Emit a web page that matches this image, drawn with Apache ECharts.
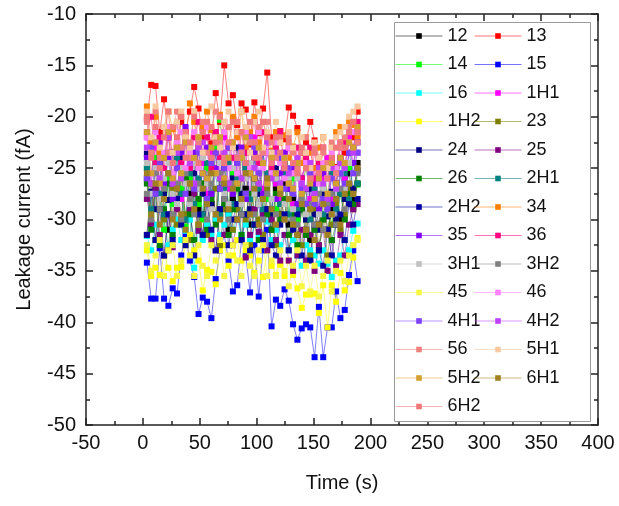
<!DOCTYPE html>
<html>
<head>
<meta charset="utf-8">
<script src="https://cdn.jsdelivr.net/npm/echarts@6/dist/echarts.min.js"></script>
<style>
html,body{margin:0;padding:0;background:#fff;}
#chart{width:619px;height:506px;}
</style>
</head>
<body>
<div id="chart"></div>
<script>
// Time axis values (s)
const times = [3.5,7.3,11.1,14.8,18.6,22.4,26.2,30.0,33.7,37.5,
               41.3,45.1,48.9,52.6,56.4,60.2,64.0,67.8,71.5,75.3,
               79.1,82.9,86.7,90.4,94.2,98.0,101.8,105.6,109.3,113.1,
               116.9,120.7,124.5,128.2,132.0,135.8,139.6,143.4,147.1,150.9,
               154.7,158.5,162.3,166.0,169.8,173.6,177.4,181.2,184.9,188.7];

// Series values (fA)
const s12 = [-26.0,-30.5,-27.0,-24.5,-29.5,-31.0,-26.5,-28.0,-25.0,-30.0,
             -27.5,-24.0,-29.0,-31.5,-26.0,-28.5,-30.0,-25.5,-27.0,-31.0,
             -28.0,-25.5,-29.5,-27.0,-30.5,-26.0,-28.5,-24.5,-29.0,-31.0,
             -27.0,-29.5,-26.5,-30.5,-28.0,-31.5,-29.0,-27.0,-32.0,-28.5,
             -30.5,-27.5,-31.0,-29.0,-26.5,-30.0,-27.0,-25.5,-28.0,-24.5];
const s13 = [-20.2,-16.9,-17.0,-21.5,-18.3,-22.0,-21.0,-23.0,-20.5,-21.5,
             -19.5,-17.1,-19.2,-22.0,-21.0,-22.6,-17.7,-20.5,-15.0,-18.7,
             -17.9,-20.8,-18.7,-19.3,-22.7,-18.6,-21.6,-19.2,-15.7,-22.0,
             -22.1,-21.4,-22.2,-19.1,-19.9,-21.1,-23.5,-22.5,-20.5,-22.3,
             -24.0,-24.5,-25.0,-24.0,-24.9,-24.0,-23.5,-22.5,-22.0,-19.5];
const s14 = [-25.0,-29.5,-24.0,-27.5,-31.0,-26.0,-28.5,-23.5,-27.0,-30.7,
             -26.0,-23.5,-28.5,-30.0,-25.0,-27.5,-23.0,-20.3,-24.5,-28.5,
             -25.5,-29.0,-24.0,-27.5,-25.0,-29.5,-26.5,-23.5,-28.0,-25.0,
             -29.0,-27.0,-24.5,-29.5,-26.0,-30.0,-27.5,-24.5,-28.5,-26.5,
             -29.0,-24.6,-28.0,-30.5,-26.5,-24.5,-28.0,-25.0,-23.0,-26.6];
const s15 = [-34.2,-37.7,-37.7,-32.8,-37.7,-38.4,-36.7,-37.2,-33.5,-31.5,
             -34.0,-35.6,-39.2,-37.6,-38.0,-39.6,-35.8,-33.0,-31.5,-34.0,
             -37.0,-36.4,-32.0,-33.5,-37.1,-32.5,-37.5,-33.0,-31.0,-40.4,
             -37.8,-38.4,-36.8,-37.9,-40.2,-41.7,-40.6,-40.2,-40.5,-43.4,
             -38.5,-43.4,-40.5,-40.5,-37.0,-39.6,-38.8,-35.4,-33.0,-36.0];
const s16 = [-31.6,-33.0,-30.5,-31.8,-30.0,-32.5,-31.0,-30.0,-32.0,-31.1,
             -30.0,-34.7,-31.0,-32.0,-30.5,-31.5,-30.0,-31.5,-30.5,-29.5,
             -31.0,-30.0,-31.5,-30.5,-32.0,-30.5,-31.5,-29.5,-30.2,-32.0,
             -31.0,-32.5,-31.5,-33.0,-32.0,-33.5,-34.5,-32.5,-33.0,-33.5,
             -34.3,-33.0,-34.3,-35.6,-34.0,-33.5,-32.0,-33.0,-31.1,-30.4];
const s1H1 = [-22.0,-26.5,-23.0,-27.5,-24.0,-21.5,-26.0,-23.0,-28.0,-22.5,
              -25.0,-27.0,-22.5,-24.5,-27.5,-23.5,-21.5,-25.5,-22.0,-27.0,
              -24.0,-21.5,-26.0,-23.5,-27.5,-22.0,-25.5,-27.0,-22.5,-24.5,
              -26.5,-28.0,-23.5,-26.5,-28.5,-24.5,-27.0,-23.5,-28.0,-25.0,
              -29.0,-26.0,-24.0,-28.0,-25.0,-22.5,-26.0,-22.0,-24.5,-23.5];
const s1H2 = [-33.0,-35.5,-34.7,-35.4,-33.5,-34.7,-36.0,-34.7,-34.6,-32.5,
              -31.5,-33.0,-34.0,-36.9,-34.9,-35.1,-36.3,-33.0,-32.5,-34.5,
              -33.5,-32.0,-34.0,-33.0,-33.5,-35.2,-34.0,-35.6,-33.0,-34.5,
              -35.4,-34.4,-35.5,-34.0,-35.4,-36.7,-38.6,-37.3,-37.3,-37.2,
              -39.1,-36.4,-40.5,-36.4,-38.0,-35.2,-36.9,-36.1,-33.7,-31.8];
const s23 = [-31.5,-26.5,-32.0,-28.0,-30.0,-33.0,-27.0,-30.5,-26.0,-29.5,
             -32.0,-27.0,-30.5,-26.5,-31.5,-28.5,-27.0,-32.5,-29.0,-26.5,
             -31.0,-29.0,-26.0,-30.0,-32.5,-27.5,-30.0,-31.5,-27.0,-30.0,
             -32.5,-29.5,-28.0,-33.0,-30.5,-28.5,-32.5,-30.0,-33.5,-29.0,
             -32.5,-30.0,-33.5,-30.5,-28.5,-31.0,-29.5,-27.0,-29.0,-26.5];
const s24 = [-23.6,-27.3,-29.0,-24.0,-27.5,-28.1,-23.5,-27.0,-24.0,-26.2,
             -29.0,-25.5,-23.0,-27.5,-24.5,-28.5,-23.5,-27.0,-25.0,-29.0,
             -26.0,-23.0,-27.5,-25.0,-29.0,-24.0,-27.5,-23.5,-26.5,-29.5,
             -25.0,-26.7,-24.6,-27.0,-29.5,-29.1,-26.5,-30.0,-27.0,-29.5,
             -31.0,-27.5,-29.7,-27.3,-30.0,-25.5,-28.0,-24.5,-27.0,-25.2];
const s25 = [-28.0,-30.4,-27.0,-31.5,-33.5,-29.5,-32.7,-29.0,-27.5,-32.0,
             -29.0,-27.5,-31.1,-29.5,-28.0,-32.0,-33.0,-29.0,-31.5,-28.5,
             -32.5,-30.0,-29.5,-33.7,-31.5,-29.0,-31.2,-29.5,-33.0,-30.0,
             -32.0,-34.0,-31.5,-34.0,-35.0,-33.5,-31.0,-34.0,-31.5,-35.0,
             -32.5,-31.0,-35.0,-32.0,-34.5,-31.5,-33.5,-30.5,-29.0,-28.5];
const s26 = [-26.5,-31.0,-27.5,-32.5,-29.0,-26.5,-31.5,-28.0,-30.0,-26.0,
             -29.5,-32.0,-28.0,-26.5,-31.0,-28.0,-30.5,-26.0,-28.5,-31.5,
             -29.0,-27.0,-31.5,-29.5,-27.5,-30.5,-32.0,-28.0,-29.5,-31.0,
             -27.5,-30.0,-28.0,-31.5,-29.5,-32.5,-29.0,-31.5,-28.5,-31.0,
             -33.0,-30.0,-28.5,-32.0,-30.5,-27.5,-30.0,-27.5,-28.5,-26.5];
const s2H1 = [-25.0,-29.0,-24.5,-27.5,-29.5,-25.5,-28.0,-24.0,-27.5,-30.0,
              -25.5,-28.5,-26.0,-29.5,-24.5,-27.5,-25.5,-29.5,-27.0,-24.5,
              -28.5,-26.0,-29.5,-25.0,-28.0,-24.0,-27.0,-29.0,-25.5,-29.0,
              -26.0,-28.5,-25.5,-29.5,-27.5,-29.0,-26.0,-28.5,-30.0,-27.0,
              -26.0,-29.5,-28.0,-25.5,-29.0,-27.5,-25.5,-28.0,-24.5,-26.5];
const s2H2 = [-31.5,-27.5,-32.0,-29.0,-33.5,-29.5,-32.0,-28.0,-30.5,-32.5,
              -28.5,-33.5,-29.5,-31.5,-28.5,-31.0,-33.0,-29.0,-28.0,-32.5,
              -30.0,-28.5,-32.0,-29.5,-33.0,-30.5,-28.5,-32.0,-29.0,-32.5,
              -33.5,-30.5,-29.5,-33.0,-31.0,-29.5,-33.5,-31.0,-34.0,-30.5,
              -33.0,-34.5,-31.0,-33.5,-30.5,-29.5,-32.0,-28.5,-30.5,-28.0];
const s34 = [-19.0,-22.5,-20.0,-23.5,-21.0,-19.5,-21.2,-23.0,-20.0,-22.0,
             -18.7,-20.5,-23.0,-21.0,-19.5,-21.3,-23.5,-19.8,-21.5,-23.0,
             -20.0,-22.0,-19.5,-23.0,-21.5,-20.0,-22.5,-20.5,-22.0,-23.3,
             -21.5,-22.5,-21.8,-24.0,-22.9,-21.5,-24.5,-22.0,-23.5,-25.0,
             -23.0,-22.0,-24.5,-23.0,-21.5,-21.0,-23.0,-20.5,-20.8,-22.0];
const s35 = [-24.0,-27.5,-25.0,-22.5,-26.5,-24.0,-28.0,-25.0,-23.5,-21.0,
             -26.5,-23.5,-27.0,-25.5,-23.0,-27.5,-25.0,-22.5,-26.5,-24.0,
             -27.5,-24.5,-23.0,-28.0,-25.0,-23.5,-26.5,-27.5,-23.5,-25.5,
             -28.0,-25.5,-23.5,-27.0,-25.0,-28.5,-26.0,-24.5,-28.5,-26.5,
             -29.0,-25.5,-24.5,-28.5,-26.5,-24.0,-27.0,-23.5,-24.5,-22.5];
const s36 = [-21.5,-20.0,-24.5,-22.0,-25.0,-22.0,-23.5,-20.5,-24.5,-21.5,
             -25.0,-22.0,-20.5,-23.5,-22.0,-25.0,-21.5,-24.0,-20.5,-23.0,
             -24.0,-25.5,-21.5,-23.5,-22.0,-20.5,-24.5,-21.5,-23.5,-25.0,
             -23.0,-21.5,-25.0,-23.0,-25.5,-23.0,-26.0,-24.0,-23.0,-26.0,
             -24.5,-23.0,-26.0,-24.0,-26.5,-23.0,-22.5,-21.5,-23.0,-20.5];
const s3H1 = [-24.5,-27.5,-25.0,-28.0,-26.0,-24.5,-27.5,-28.5,-25.0,-26.5,
              -28.5,-24.5,-27.0,-24.0,-26.5,-29.0,-25.5,-24.5,-27.5,-28.5,
              -25.0,-26.5,-28.5,-26.0,-24.5,-27.5,-28.5,-24.5,-26.5,-28.0,
              -26.0,-24.5,-28.5,-26.0,-29.0,-26.0,-28.0,-29.5,-26.0,-28.5,
              -29.5,-27.0,-26.0,-29.5,-27.0,-25.5,-27.0,-24.5,-25.5,-23.5];
const s3H2 = [-27.5,-30.0,-25.5,-29.0,-27.0,-25.5,-29.5,-26.5,-30.0,-25.5,
              -28.0,-29.5,-26.5,-25.5,-30.0,-26.5,-29.5,-25.5,-28.0,-30.0,
              -26.5,-25.5,-29.5,-27.5,-25.5,-29.5,-26.5,-30.0,-27.5,-25.5,
              -29.5,-27.0,-30.0,-26.5,-30.0,-30.5,-28.0,-31.0,-28.5,-30.5,
              -27.5,-31.0,-28.5,-27.5,-30.5,-27.0,-29.0,-26.5,-27.5,-25.5];
const s45 = [-32.5,-35.0,-33.5,-32.0,-35.5,-33.0,-32.5,-35.5,-34.0,-32.0,
             -33.5,-35.5,-32.5,-34.5,-35.5,-32.5,-34.0,-32.0,-35.5,-33.5,
             -32.5,-34.0,-35.5,-32.5,-34.5,-35.5,-33.0,-32.5,-35.5,-34.0,
             -35.5,-33.0,-35.0,-36.5,-34.5,-33.0,-36.5,-34.5,-37.0,-34.5,
             -37.5,-35.5,-34.0,-37.0,-35.0,-34.0,-36.0,-33.5,-32.5,-32.0];
const s46 = [-22.0,-25.5,-21.5,-25.0,-23.5,-21.0,-25.5,-22.5,-21.5,-25.0,
             -23.5,-21.5,-25.0,-23.5,-21.0,-24.0,-25.5,-22.5,-21.5,-25.0,
             -22.5,-25.5,-23.5,-21.5,-25.0,-22.5,-21.5,-25.0,-23.5,-25.5,
             -22.5,-24.5,-26.0,-23.0,-25.5,-24.0,-26.5,-24.5,-26.0,-23.5,
             -26.5,-24.5,-26.0,-23.5,-25.0,-23.0,-24.5,-22.5,-21.5,-21.0];
const s4H1 = [-26.0,-23.0,-27.5,-24.5,-28.0,-23.5,-26.5,-25.0,-23.0,-27.5,
              -24.5,-27.0,-23.5,-25.5,-28.0,-24.5,-23.5,-27.0,-25.0,-23.0,
              -27.0,-24.5,-23.5,-27.5,-25.5,-23.0,-25.5,-23.5,-26.0,-23.5,
              -25.5,-24.0,-27.0,-25.0,-27.5,-24.5,-27.0,-28.5,-25.5,-28.5,
              -26.0,-28.0,-29.0,-26.0,-28.0,-25.5,-26.5,-23.5,-25.5,-23.5];
const s4H2 = [-23.0,-26.5,-22.5,-26.0,-24.0,-22.0,-26.5,-23.5,-26.0,-22.5,
              -24.5,-26.5,-23.0,-22.5,-26.0,-24.0,-22.5,-26.0,-23.5,-26.5,
              -22.5,-24.0,-26.0,-24.5,-22.0,-25.0,-26.5,-23.5,-22.5,-26.0,
              -23.5,-26.5,-24.0,-25.5,-27.0,-24.0,-26.5,-27.0,-24.5,-27.5,
              -25.0,-26.5,-28.0,-25.0,-27.0,-24.5,-25.0,-22.5,-23.5,-21.5];
const s56 = [-20.5,-23.5,-19.5,-24.0,-21.0,-23.5,-21.0,-19.5,-23.0,-21.5,
             -24.0,-19.5,-22.5,-20.5,-23.5,-21.0,-19.5,-22.5,-24.0,-21.0,
             -22.5,-20.5,-23.5,-21.0,-22.5,-24.0,-21.0,-23.5,-20.5,-22.5,
             -24.0,-22.0,-24.5,-22.0,-23.5,-25.0,-23.5,-22.0,-25.0,-23.0,
             -25.5,-23.5,-24.5,-22.5,-25.5,-23.0,-22.0,-21.0,-20.5,-22.5];
const s5H1 = [-19.5,-22.0,-19.0,-23.0,-21.0,-19.5,-23.5,-20.5,-19.5,-22.0,
              -23.0,-19.5,-22.0,-23.5,-20.5,-19.0,-22.0,-23.0,-20.5,-19.5,
              -23.0,-21.5,-19.5,-21.0,-23.5,-20.5,-19.5,-23.0,-21.5,-23.5,
              -20.5,-22.5,-24.0,-21.5,-23.0,-24.5,-22.0,-23.5,-25.0,-22.5,
              -24.0,-22.0,-25.0,-23.0,-22.0,-21.5,-21.0,-20.0,-19.5,-19.0];
const s5H2 = [-21.5,-25.5,-22.5,-26.5,-24.0,-21.5,-26.0,-23.0,-25.5,-22.5,
              -26.5,-24.0,-22.0,-25.5,-26.0,-23.0,-25.5,-22.0,-26.0,-24.0,
              -22.5,-26.5,-24.0,-22.0,-25.5,-26.0,-23.0,-24.5,-26.5,-24.0,
              -25.5,-27.0,-24.0,-26.5,-27.0,-24.5,-27.5,-25.0,-26.5,-28.0,
              -26.0,-25.0,-27.5,-24.5,-26.5,-24.0,-24.5,-22.5,-23.0,-21.0];
const s6H1 = [-25.5,-29.5,-26.5,-30.5,-28.0,-25.5,-30.0,-27.0,-29.5,-31.0,
              -26.5,-29.0,-30.5,-27.0,-28.5,-25.5,-29.5,-30.0,-26.5,-29.0,
              -27.0,-30.0,-28.0,-25.5,-29.5,-27.0,-30.5,-28.0,-26.0,-29.0,
              -30.5,-27.5,-30.0,-28.0,-30.5,-31.5,-28.5,-31.0,-29.0,-32.0,
              -30.5,-28.5,-31.5,-29.5,-28.0,-30.5,-27.5,-26.5,-27.5,-25.0];
const s6H2 = [-20.0,-24.0,-21.0,-25.0,-22.0,-19.5,-24.5,-22.0,-20.0,-24.0,
              -22.5,-20.0,-24.5,-21.5,-20.5,-24.0,-22.5,-20.0,-24.5,-22.5,
              -20.5,-24.0,-21.5,-24.5,-20.5,-22.5,-24.0,-20.5,-22.0,-24.5,
              -22.0,-23.5,-25.0,-22.5,-24.5,-25.5,-23.0,-25.0,-26.0,-23.5,
              -25.5,-23.0,-26.0,-24.0,-23.0,-22.5,-23.0,-21.5,-20.5,-21.5];

// Series names (legend order) and values
const seriesNames = ['12','13','14','15','16','1H1','1H2','23','24','25','26','2H1','2H2','34','35','36','3H1','3H2','45','46','4H1','4H2','56','5H1','5H2','6H1','6H2'];
const seriesValues = [s12,s13,s14,s15,s16,s1H1,s1H2,s23,s24,s25,s26,s2H1,s2H2,s34,s35,s36,s3H1,s3H2,s45,s46,s4H1,s4H2,s56,s5H1,s5H2,s6H1,s6H2];
const legendLeftCol = ['12','14','16','1H2','24','26','2H2','35','3H1','45','4H1','56','5H2','6H2'];
const legendRightCol = ['13','15','1H1','23','25','2H1','34','36','3H2','46','4H2','5H1','6H1'];

const seriesColors = ['#000000','#ff0000','#00ff00','#0000ff','#00ffff','#ff00ff','#ffff00','#808000','#000080','#800080','#008000','#008080','#0000a0','#ff8000','#8000ff','#ff0080','#c0c0c0','#808080','#f6f640','#ff80ff','#7f3fff','#c040ff','#f08080','#f8c8a0','#d4a030','#a08020','#f07878'];

const FONT = 'Liberation Sans, Arial, Helvetica, sans-serif';

const series = seriesNames.map((name, k) => ({
  name: name,
  type: 'line',
  xAxisIndex: 0,
  yAxisIndex: 0,
  symbol: 'rect',
  symbolSize: 6,
  showSymbol: true,
  color: seriesColors[k],
  itemStyle: { color: seriesColors[k], opacity: 1 },
  lineStyle: { color: seriesColors[k], width: 1, opacity: 0.5 },
  emphasis: { disabled: true },
  data: times.map((t, i) => [t, seriesValues[k][i]])
}));

const axisCommonX = {
  type: 'value', min: -50, max: 400, interval: 50,
  axisLine: { show: true, onZero: false, lineStyle: { color: '#222', width: 1.5 } },
  axisTick: { show: true, inside: true, length: 7, lineStyle: { color: '#222', width: 1.5 } },
  minorTick: { show: true, splitNumber: 2, length: 4, lineStyle: { color: '#222', width: 1.5 } },
  splitLine: { show: false },
  minorSplitLine: { show: false }
};
const axisCommonY = {
  type: 'value', min: -50, max: -10, interval: 5,
  axisLine: { show: true, onZero: false, lineStyle: { color: '#222', width: 1.5 } },
  axisTick: { show: true, inside: true, length: 7, lineStyle: { color: '#222', width: 1.5 } },
  minorTick: { show: true, splitNumber: 2, length: 4, lineStyle: { color: '#222', width: 1.5 } },
  splitLine: { show: false },
  minorSplitLine: { show: false }
};

const legendCommon = {
  orient: 'vertical',
  itemWidth: 47,
  itemHeight: 7,
  itemGap: 10.5,
  selectedMode: false,
  z: 20,
  lineStyle: { width: 1, opacity: 0.55 },
  textStyle: { fontFamily: FONT, fontSize: 18, color: '#111', padding: [0, 0, 0, 0] },
  padding: 0,
  inactiveColor: '#ccc'
};

const chart = echarts.init(document.getElementById('chart'), null, { renderer: 'canvas' });
chart.setOption({
  animation: false,
  backgroundColor: '#fff',
  grid: { left: 86, right: 21, top: 14, bottom: 81, containLabel: false },
  xAxis: [
    Object.assign({}, axisCommonX, {
      position: 'bottom',
      name: 'Time (s)', nameLocation: 'middle', nameGap: 48,
      nameTextStyle: { fontFamily: FONT, fontSize: 20, color: '#111' },
      axisLabel: { fontFamily: FONT, fontSize: 20, color: '#111', margin: 8 }
    }),
    Object.assign({}, axisCommonX, { position: 'top', axisLabel: { show: false } })
  ],
  yAxis: [
    Object.assign({}, axisCommonY, {
      position: 'left',
      name: 'Leakage current (fA)', nameLocation: 'middle', nameGap: 52, nameRotate: 90,
      nameTextStyle: { fontFamily: FONT, fontSize: 20, color: '#111' },
      axisLabel: { fontFamily: FONT, fontSize: 20, color: '#111', margin: 10 }
    }),
    Object.assign({}, axisCommonY, { position: 'right', axisLabel: { show: false } })
  ],
  legend: [
    Object.assign({}, legendCommon, { left: 395, top: 27, data: legendLeftCol }),
    Object.assign({}, legendCommon, { left: 474, top: 27, data: legendRightCol })
  ],
  graphic: [{
    type: 'rect', left: 394, top: 22, z: 1,
    shape: { width: 196, height: 399 },
    style: { fill: '#fff', stroke: '#9a9a9a', lineWidth: 1 }
  }],
  series: series
});
</script>
</body>
</html>
